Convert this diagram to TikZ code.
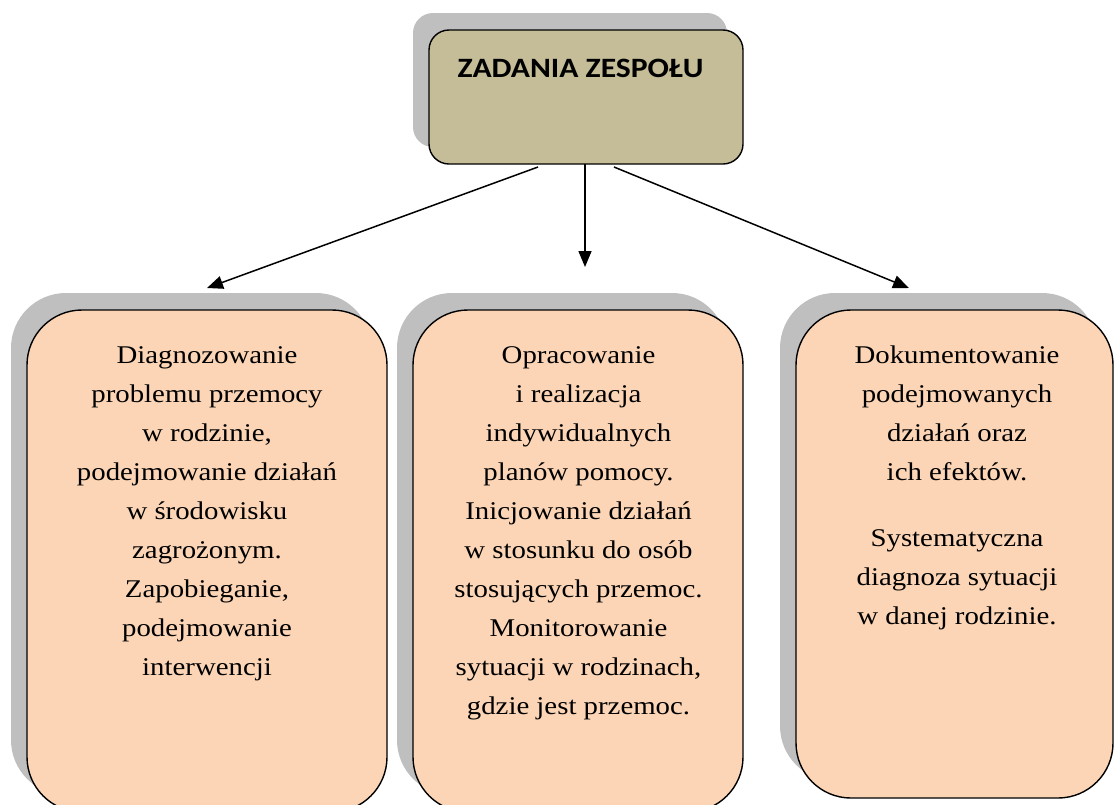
\documentclass[tikz,border=0pt]{standalone}
\usepackage{fontspec}
\setmainfont{Liberation Serif}[FakeStretch=1.13]
\newfontfamily\titlefont{Carlito}[FakeStretch=1.13]
\usetikzlibrary{arrows.meta,shadows}
\definecolor{tanfill}{RGB}{196,189,151}
\definecolor{peach}{RGB}{251,213,181}
\definecolor{shadowgray}{RGB}{191,191,191}
\begin{document}
\begin{tikzpicture}[x=1pt,y=-1pt,
  boxshadow/.style={drop shadow={shadow xshift=-16pt,shadow yshift=17pt,fill=shadowgray,opacity=1}},
  headbox/.style={draw=black,line width=1.4pt,fill=tanfill,rounded corners=20pt,minimum width=314pt,minimum height=134pt,inner sep=0pt,boxshadow},
  taskbox/.style={draw=black,line width=1.4pt,fill=peach,rounded corners=55pt,inner sep=0pt,boxshadow},
  tasktext/.style={align=center,font=\fontsize{25.5}{39}\selectfont,inner sep=0pt,anchor=base},
  arr/.style={line width=1.5pt,-{Triangle[length=16pt,width=13pt]}}]
\useasboundingbox (0,0) rectangle (1115,804);
\clip (0,0) rectangle (1115,804);
% header
\node[headbox] (head) at (586,97) {};
\node[font={\titlefont\bfseries\fontsize{28}{34}\selectfont},anchor=base,inner sep=0pt] (title) at (580.5,77) {ZADANIA ZESPOŁU};
% task boxes
\node[taskbox,minimum width=360pt,minimum height=502pt] (b1) at (207,561) {};
\node[taskbox,minimum width=330pt,minimum height=502pt] (b2) at (578,561) {};
\node[taskbox,minimum width=317pt,minimum height=488pt] (b3) at (954.5,554) {};
% texts (anchor = baseline of the last line)
\node[tasktext] (t1) at (207,675) {Diagnozowanie\\problemu przemocy\\w rodzinie,\\podejmowanie działań\\w środowisku\\zagrożonym.\\Zapobieganie,\\podejmowanie\\interwencji};
\node[tasktext] (t2) at (578.5,714) {Opracowanie\\i realizacja\\indywidualnych\\planów pomocy.\\Inicjowanie działań\\w stosunku do osób\\stosujących przemoc.\\Monitorowanie\\sytuacji w rodzinach,\\gdzie jest przemoc.};
\node[tasktext] (t3) at (957,624) {Dokumentowanie\\podejmowanych\\działań oraz\\ich efektów.\\[27pt]Systematyczna\\diagnoza sytuacji\\w danej rodzinie.};
% arrows
\coordinate (s1) at (538,167);
\coordinate (e1) at (207,288);
\coordinate (s2) at (585,164);
\coordinate (e2) at (585,267);
\coordinate (s3) at (614,167);
\coordinate (e3) at (909,288);
\draw[arr] (s1) -- (e1);
\draw[arr] (s2) -- (e2);
\draw[arr] (s3) -- (e3);
\end{tikzpicture}
\end{document}
